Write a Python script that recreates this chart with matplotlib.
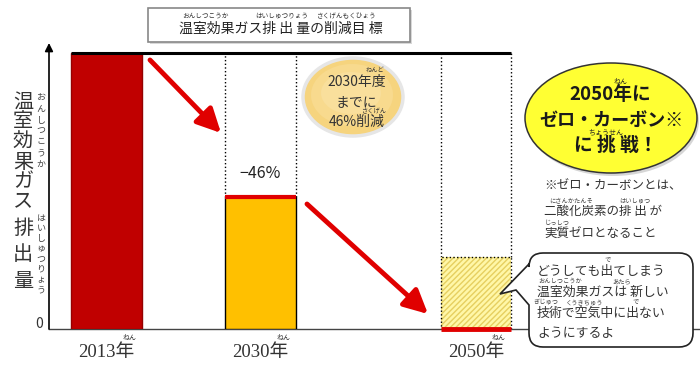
import matplotlib.pyplot as plt
from matplotlib.patches import Ellipse, Rectangle, PathPatch
from matplotlib.path import Path
from matplotlib.transforms import Affine2D

plt.rcParams['font.family'] = ['Noto Sans CJK JP', 'DejaVu Sans']

# data (2013 = 100, heights as drawn in the picture)
years = ['2013年', '2030年', '2050年']
emissions = [100, 48, 0]
remaining_2050 = 26   # hatched part that is still emitted in 2050
x_pos = [0, 1, 2.4]
bar_w = 0.46

red = '#E00000'
serif = ['Liberation Serif', 'Noto Sans CJK JP']

fig = plt.figure(figsize=(7, 3.68), dpi=100)
# pixel coordinates of the 700x368 picture, origin top-left
px = Affine2D().scale(1 / 700, -1 / 368).translate(0, 1) + fig.transFigure


def put(x, y, s, size, **kw):
    kw.setdefault('ha', 'center')
    kw.setdefault('va', 'center')
    fig.text(x, y, s, transform=px, fontsize=size, **kw)


ax = fig.add_axes([49 / 700, 39 / 368, 651 / 700, 276 / 368])
ax.set_xlim(-0.373, -0.373 + 651 / 154)
ax.set_ylim(0, 100)
for s in ['top', 'right', 'left']:
    ax.spines[s].set_visible(False)
ax.spines['bottom'].set_color('#444444')
ax.spines['bottom'].set_linewidth(1)

# bars
ax.bar(x_pos[0], emissions[0], bar_w, color='#C00000', edgecolor='#950000', lw=1, zorder=3)
ax.bar(x_pos[1], emissions[1], bar_w, color='#FFC000', edgecolor='black', lw=1, zorder=3)
ax.hlines(emissions[1], x_pos[1] - bar_w / 2, x_pos[1] + bar_w / 2, color=red, lw=3, zorder=4)
ax.bar(x_pos[2], remaining_2050, bar_w, color='#FFF7A8', edgecolor='#E6CF60',
       hatch='//////', lw=0, zorder=3)
ax.bar(x_pos[2], remaining_2050, bar_w, fill=False, edgecolor='black', ls=':', lw=1, zorder=4)
ax.hlines(emissions[2], x_pos[2] - bar_w / 2, x_pos[2] + bar_w / 2, color=red, lw=3.5,
          zorder=5, clip_on=False)

# top reference line and dotted guides
ax.hlines(emissions[0], x_pos[0] - bar_w / 2, x_pos[2] + bar_w / 2, color='black', lw=2.2,
          zorder=5, clip_on=False)
for xc, top in [(x_pos[1], emissions[1]), (x_pos[2], remaining_2050)]:
    ax.vlines([xc - bar_w / 2, xc + bar_w / 2], top, emissions[0], colors='black',
              linestyles=':', lw=1, zorder=2)

ax.set_yticks([])
ax.set_xticks(x_pos, years, fontsize=13.5, family=serif, color='#333333')
ax.tick_params(axis='x', length=0, pad=11)
for xc in x_pos:
    ax.annotate('ねん', xy=(xc, 0), xycoords='data', xytext=(23, -9),
                textcoords='offset pixels', fontsize=5, ha='center', va='center',
                color='#333333', annotation_clip=False)

# y axis arrow
ax.annotate('', xy=(49, 43), xytext=(49, 329), xycoords=px,
            arrowprops=dict(arrowstyle='-|>', color='black', lw=1.2, mutation_scale=12,
                            shrinkA=0, shrinkB=0))
put(39, 324, '0', 10, color='#333333')

# y label, vertical
for i, ch in enumerate('温室効果ガス'):
    put(23, 102 + i * 20, ch, 14.5, color='#333333')
for i, ch in enumerate('排出量'):
    put(23, 228 + i * 26.5, ch, 14.5, color='#333333')
for i, ch in enumerate('おんしつこうか'):
    put(41, 98 + i * 11, ch, 6.5, color='#444444')
for i, ch in enumerate('はいしゅつりょう'):
    put(41, 218 + i * 10.3, ch, 6.5, color='#444444')

# red arrows
arrow = dict(arrowstyle='-|>,head_length=0.8,head_width=0.4', color=red, lw=3.5,
             mutation_scale=18, shrinkA=0, shrinkB=0)
ax.annotate('', xy=(221, 133), xytext=(150, 60), xycoords=px, arrowprops=arrow)
ax.annotate('', xy=(428, 314), xytext=(307, 204), xycoords=px, arrowprops=arrow)

put(260, 174, '−46%', 11.5, color='#222222')

# title box
fig.add_artist(Rectangle((150, 10), 262, 34, transform=px, facecolor='#D8D8D8',
                         edgecolor='none', zorder=1))
fig.add_artist(Rectangle((148, 8), 262, 34, transform=px, facecolor='white',
                         edgecolor='#888888', lw=1.2, zorder=2))
put(281, 29, '温室効果ガス排 出 量の削減目 標', 10, color='#222222', zorder=3)
put(205, 16, 'おんしつこうか', 4.8, color='#333333', zorder=3)
put(282, 16, 'はいしゅつりょう', 4.8, color='#333333', zorder=3)
put(347, 16, 'さくげんもくひょう', 4.8, color='#333333', zorder=3)

# 2030 bubble
fig.add_artist(Ellipse((353, 97), 100, 78, transform=px, facecolor='#F6D47E',
                       edgecolor='#E6E6E6', lw=2.5, zorder=2))
fig.add_artist(Ellipse((352, 95), 82, 62, transform=px, facecolor='#F8DA8E',
                       edgecolor='none', zorder=2))
fig.add_artist(Ellipse((351, 93), 60, 42, transform=px, facecolor='#F9DF9C',
                       edgecolor='none', zorder=2))
put(357, 82, '2030年度', 10, color='#333333', zorder=3)
put(356, 102, 'までに', 10, color='#333333', zorder=3)
put(357, 122, '46%削減', 10, color='#333333', zorder=3)
put(375, 70, 'ねんど', 4.5, color='#333333', zorder=3)
put(374, 111.5, 'さくげん', 4.5, color='#333333', zorder=3)

# 2050 bubble
fig.add_artist(Ellipse((613, 121), 172, 110, transform=px, facecolor='#D6D6D6',
                       edgecolor='none', zorder=1))
fig.add_artist(Ellipse((611, 118), 172, 110, transform=px, facecolor='#FFFF33',
                       edgecolor='#333333', lw=1.1, zorder=2))
put(610, 95, '2050年に', 13.5, weight='bold', color='#1A1A1A', zorder=3)
put(611, 120, 'ゼロ・カーボン※', 13, weight='bold', color='#1A1A1A', zorder=3)
put(616, 145, 'に 挑 戦！', 13.5, weight='bold', color='#1A1A1A', zorder=3)
put(621, 82, 'ねん', 5, color='#222222', zorder=3)
put(606, 132, 'ちょうせん', 5, color='#222222', zorder=3)

# note
put(544, 186, '※ゼロ・カーボンとは、', 9, ha='left', color='#333333')
put(544, 211, '二酸化炭素の排 出 が', 9, ha='left', color='#333333')
put(544, 234, '実質ゼロとなること', 9, ha='left', color='#333333')
put(571, 200, 'にさんかたんそ', 4.5, color='#444444')
put(635, 200, 'はいしゅつ', 4.5, color='#444444')
put(557, 223, 'じっしつ', 4.5, color='#444444')

# speech bubble
L, R, T, B, r = 529, 693, 253, 347, 14
verts = [(L, 305), (L, B - r), (L, B), (L + r, B), (R - r, B), (R, B), (R, B - r),
         (R, T + r), (R, T), (R - r, T), (L + r, T), (L, T), (L, T + r), (L, 264),
         (500, 294), (516, 290), (L, 305)]
codes = [Path.MOVETO, Path.LINETO, Path.CURVE3, Path.CURVE3, Path.LINETO, Path.CURVE3,
         Path.CURVE3, Path.LINETO, Path.CURVE3, Path.CURVE3, Path.LINETO, Path.CURVE3,
         Path.CURVE3, Path.LINETO, Path.LINETO, Path.LINETO, Path.CLOSEPOLY]
fig.add_artist(PathPatch(Path(verts, codes), transform=px, facecolor='white',
                         edgecolor='#222222', lw=1.2, zorder=6))
put(537, 271, 'どうしても出てしまう', 9.3, ha='left', color='#333333', zorder=7)
put(537, 292, '温室効果ガスは 新しい', 9.3, ha='left', color='#333333', zorder=7)
put(537, 313, '技術で空気中に出ない', 9.3, ha='left', color='#333333', zorder=7)
put(537, 334, 'ようにするよ', 9.3, ha='left', color='#333333', zorder=7)
put(608, 260, 'で', 4.5, color='#444444', zorder=7)
put(560, 281, 'おんしつこうか', 4.5, color='#444444', zorder=7)
put(622, 281, 'あたら', 4.5, color='#444444', zorder=7)
put(546, 302, 'ぎじゅつ', 4.5, color='#444444', zorder=7)
put(585, 302, 'くうきちゅう', 4.5, color='#444444', zorder=7)
put(636, 302, 'で', 4.5, color='#444444', zorder=7)

fig.savefig('out.png', dpi=100)
